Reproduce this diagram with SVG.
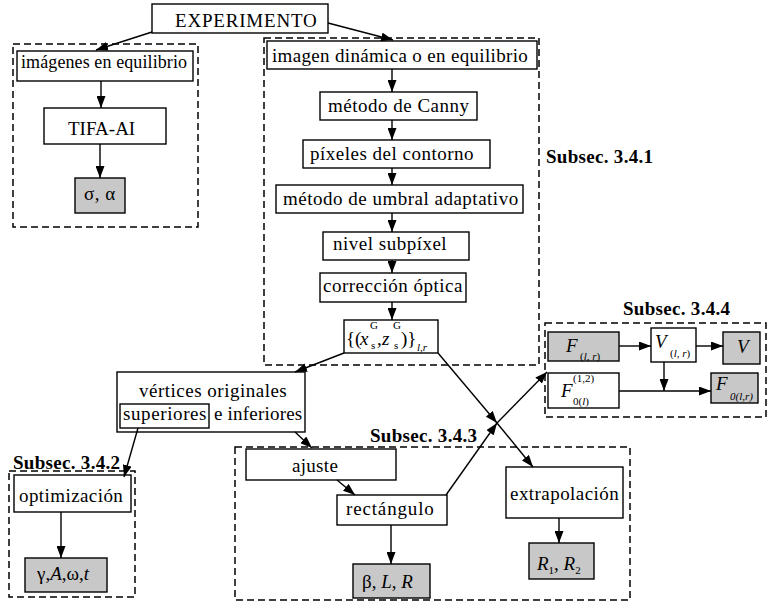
<svg xmlns="http://www.w3.org/2000/svg" width="770" height="605" viewBox="0 0 770 605" font-family="'Liberation Serif', serif">
<defs>
<style>
.n{fill:#fff;stroke:#000;stroke-width:1.4}
.g{fill:#c8c8c8;stroke:#000;stroke-width:1.4}
.c{fill:none;stroke:#000;stroke-width:1.5;stroke-dasharray:7,4}
.t{font-family:'Liberation Serif',serif;font-size:19px;letter-spacing:0.5px;fill:#000}
.i{font-style:italic}
.s{font-size:11px;letter-spacing:0}
.b{font-family:'Liberation Serif',serif;font-size:19px;font-weight:bold;letter-spacing:0.3px;fill:#000}
.e line{stroke:#000;stroke-width:1.4;marker-end:url(#ah)}
</style>
<marker id="ah" markerUnits="userSpaceOnUse" markerWidth="13" markerHeight="9" refX="12" refY="4.5" orient="auto">
<path d="M0,0 L12,4.5 L0,9 z" fill="#000"/>
</marker>
</defs>
<rect width="770" height="605" fill="#fff"/>

<g id="clusters">
<rect class="c" x="13" y="44" width="185" height="183"/>
<rect class="c" x="264" y="38" width="275" height="327"/>
<rect class="c" x="9" y="471" width="126" height="126"/>
<rect class="c" x="235" y="447" width="395" height="153"/>
<rect class="c" x="545" y="323" width="221" height="94"/>
<text class="b" x="546" y="163">Subsec. 3.4.1</text>
<text class="b" x="13" y="469">Subsec. 3.4.2</text>
<text class="b" x="370" y="442">Subsec. 3.4.3</text>
<text class="b" x="623" y="315">Subsec. 3.4.4</text>
</g>

<g id="experimento"><rect class="n" x="152" y="4" width="176" height="29"/><text class="t" x="175" y="27" style="letter-spacing:0.8px">EXPERIMENTO</text></g>
<g id="imagenes"><rect class="n" x="17" y="51" width="176" height="30"/><text class="t" x="21" y="68" style="font-size:18px;letter-spacing:0.1px">imágenes en equilibrio</text></g>
<g id="tifa"><rect class="n" x="44" y="108" width="122" height="36"/><text class="t" x="68" y="135" style="letter-spacing:0">TIFA-AI</text></g>
<g id="sigma"><rect class="g" x="75" y="178" width="50" height="35"/><text class="t" x="84" y="200">σ, α</text></g>

<g id="dinamica"><rect class="n" x="267" y="41" width="270" height="28"/><text class="t" x="272" y="62" style="letter-spacing:0.33px">imagen dinámica o en equilibrio</text></g>
<g id="canny"><rect class="n" x="320" y="92" width="157" height="28"/><text class="t" x="328" y="112">método de Canny</text></g>
<g id="pixeles"><rect class="n" x="303" y="140" width="187" height="28"/><text class="t" x="310" y="160">píxeles del contorno</text></g>
<g id="umbral"><rect class="n" x="276" y="185" width="247" height="28"/><text class="t" x="283" y="205">método de umbral adaptativo</text></g>
<g id="subpixel"><rect class="n" x="323" y="232" width="146" height="28"/><text class="t" x="333" y="250">nivel subpíxel</text></g>
<g id="optica"><rect class="n" x="320" y="273" width="146" height="29"/><text class="t" x="323" y="292">corrección óptica</text></g>
<g id="xz"><rect class="n" x="344" y="320" width="94" height="33"/>
<text class="t" style="letter-spacing:0"><tspan x="346" y="345">{(</tspan><tspan class="i" x="360" y="345">x</tspan><tspan class="s" x="370" y="329">G</tspan><tspan class="s" x="371" y="349">s</tspan><tspan x="377" y="345">,</tspan><tspan class="i" x="382" y="345">z</tspan><tspan class="s" x="393" y="329">G</tspan><tspan class="s" x="394" y="349">s</tspan><tspan x="401" y="345">)}</tspan><tspan class="s i" x="417" y="351">l,r</tspan></text>
</g>

<g id="vertices"><rect class="n" x="117" y="372" width="188" height="60"/>
<rect class="n" x="120" y="404" width="89" height="24"/>
<text class="t" x="139" y="397">vértices originales</text>
<text class="t" x="123" y="420" style="letter-spacing:0.6px">superiores</text>
<text class="t" x="214" y="420" style="letter-spacing:0.2px">e inferiores</text></g>

<g id="optimizacion"><rect class="n" x="14" y="475" width="117" height="37"/><text class="t" x="19" y="502" style="letter-spacing:0.42px">optimización</text></g>
<g id="gamma"><rect class="g" x="25" y="558" width="82" height="34"/><text class="t" x="37" y="580" style="letter-spacing:0">γ,<tspan class="i">A</tspan>,ω,<tspan class="i">t</tspan></text></g>

<g id="ajuste"><rect class="n" x="246" y="449" width="150" height="31"/><text class="t" x="292" y="472" style="letter-spacing:0.3px">ajuste</text></g>
<g id="rectangulo"><rect class="n" x="337" y="495" width="110" height="30"/><text class="t" x="346" y="515" style="letter-spacing:0.85px">rectángulo</text></g>
<g id="beta"><rect class="g" x="353" y="564" width="77" height="34"/><text class="t" x="362" y="588" style="letter-spacing:0">β, <tspan class="i">L</tspan>, <tspan class="i">R</tspan></text></g>
<g id="extrapolacion"><rect class="n" x="506" y="467" width="117" height="51"/><text class="t" x="510" y="500" style="letter-spacing:0.45px">extrapolación</text></g>
<g id="r12"><rect class="g" x="529" y="543" width="65" height="36"/><text class="t" x="537" y="570" style="letter-spacing:0"><tspan class="i">R</tspan><tspan class="s" dy="4">1</tspan><tspan dy="-4">, </tspan><tspan class="i">R</tspan><tspan class="s" dy="4">2</tspan></text></g>

<g id="Flr"><rect class="g" x="548" y="332" width="71" height="29"/><text class="t" style="letter-spacing:0"><tspan class="i" x="566" y="352">F</tspan><tspan class="s" x="580" y="360">(<tspan class="i">l</tspan>, <tspan class="i">r</tspan>)</tspan></text></g>
<g id="Vlr"><rect class="n" x="651" y="328" width="45" height="34"/><text class="t" style="letter-spacing:0"><tspan class="i" x="655" y="348">V</tspan><tspan class="s" x="670" y="357">(<tspan class="i">l</tspan>, <tspan class="i">r</tspan>)</tspan></text></g>
<g id="V"><rect class="g" x="723" y="332" width="37" height="32"/><text class="t i" x="737" y="353">V</text></g>
<g id="F012"><rect class="n" x="548" y="373" width="71" height="35"/><text class="t" style="letter-spacing:0"><tspan class="i" x="561" y="397">F</tspan><tspan class="s" x="573" y="382">(1,2)</tspan><tspan class="s" x="573" y="405">0(<tspan class="i">l</tspan>)</tspan></text></g>
<g id="F0lr"><rect class="g" x="711" y="373" width="47" height="30"/><text class="t" style="letter-spacing:0"><tspan class="i" x="716" y="390">F</tspan><tspan class="s i" x="730" y="400">0(l,r)</tspan></text></g>

<g id="connectors" class="e">
<line x1="152" y1="32" x2="96" y2="50"/>
<line x1="328" y1="23" x2="393" y2="40"/>
<line x1="101" y1="81" x2="101" y2="108"/>
<line x1="100" y1="144" x2="100" y2="178"/>
<line x1="392" y1="69" x2="392" y2="92"/>
<line x1="392" y1="120" x2="392" y2="140"/>
<line x1="392" y1="168" x2="392" y2="185"/>
<line x1="392" y1="213" x2="392" y2="232"/>
<line x1="392" y1="260" x2="392" y2="273"/>
<line x1="392" y1="302" x2="392" y2="320"/>
<line x1="344" y1="353" x2="295" y2="372"/>
<line x1="438" y1="353" x2="497" y2="423"/>
<line x1="497" y1="423" x2="533" y2="467"/>
<line x1="446" y1="495" x2="497" y2="423"/>
<line x1="497" y1="423" x2="547" y2="372"/>
<line x1="138" y1="428" x2="124" y2="477"/>
<line x1="295" y1="432" x2="312" y2="448"/>
<line x1="337" y1="480" x2="355" y2="495"/>
<line x1="391" y1="525" x2="391" y2="564"/>
<line x1="61" y1="512" x2="61" y2="558"/>
<line x1="559" y1="518" x2="559" y2="543"/>
<line x1="619" y1="346" x2="651" y2="346"/>
<line x1="696" y1="346" x2="723" y2="346"/>
<line x1="664" y1="362" x2="664" y2="391"/>
<line x1="619" y1="391" x2="711" y2="391"/>
</g>
</svg>
